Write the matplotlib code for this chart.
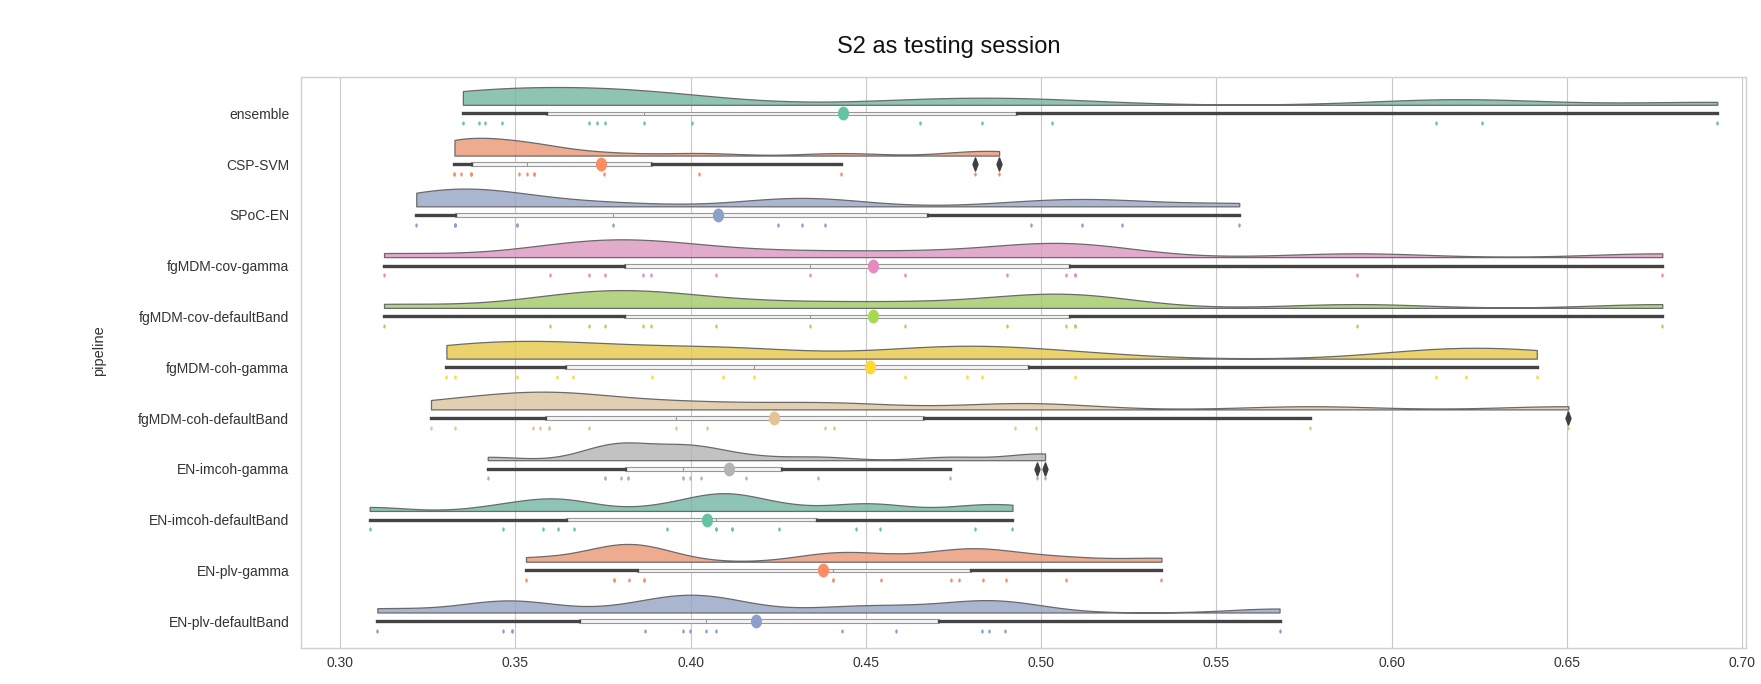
import colorsys
import numpy as np
import matplotlib
matplotlib.use("Agg")
import matplotlib.pyplot as plt
from matplotlib.path import Path

# ---- data (accuracy per subject) ----
pipelines = ["ensemble", "CSP-SVM", "SPoC-EN", "fgMDM-cov-gamma",
             "fgMDM-cov-defaultBand", "fgMDM-coh-gamma", "fgMDM-coh-defaultBand",
             "EN-imcoh-gamma", "EN-imcoh-defaultBand", "EN-plv-gamma",
             "EN-plv-defaultBand"]

ensemble = [0.3350, 0.3396, 0.3414, 0.3463, 0.3711, 0.3733, 0.3755, 0.3867,
            0.4003, 0.4654, 0.4832, 0.5031, 0.6126, 0.6259, 0.6929]
csp_svm = [0.3326, 0.3326, 0.3345, 0.3374, 0.3374, 0.3374, 0.3511, 0.3532,
           0.3553, 0.3553, 0.3753, 0.4024, 0.4430, 0.4812, 0.4880]
spoc_en = [0.3217, 0.3328, 0.3328, 0.3328, 0.3328, 0.3505, 0.3505, 0.3779,
           0.4249, 0.4318, 0.4384, 0.4970, 0.5117, 0.5230, 0.5565]
fgmdm_cov_gamma = [0.3125, 0.3599, 0.3711, 0.3755, 0.3864, 0.3887, 0.4071, 0.4341,
                   0.4611, 0.4903, 0.5070, 0.5097, 0.5097, 0.5901, 0.6772]
fgmdm_cov_default = [0.3125, 0.3599, 0.3711, 0.3755, 0.3864, 0.3887, 0.4071, 0.4341,
                     0.4611, 0.4903, 0.5070, 0.5097, 0.5097, 0.5901, 0.6772]
fgmdm_coh_gamma = [0.3303, 0.3328, 0.3505, 0.3618, 0.3664, 0.3891, 0.4092, 0.4180,
                   0.4611, 0.4789, 0.4832, 0.5097, 0.6126, 0.6212, 0.6414]
fgmdm_coh_default = [0.3259, 0.3328, 0.3550, 0.3571, 0.3595, 0.3596, 0.3711, 0.3957,
                     0.4046, 0.4384, 0.4408, 0.4924, 0.4984, 0.5768, 0.6504]
en_imcoh_gamma = [0.3421, 0.3756, 0.3756, 0.3802, 0.3822, 0.3822, 0.3979, 0.3979,
                  0.3999, 0.4029, 0.4159, 0.4364, 0.4740, 0.4988, 0.5011]
en_imcoh_default = [0.3084, 0.3465, 0.3579, 0.3622, 0.3667, 0.3933, 0.4071, 0.4071,
                    0.4117, 0.4117, 0.4251, 0.4471, 0.4539, 0.4810, 0.4918]
en_plv_gamma = [0.3530, 0.3780, 0.3780, 0.3824, 0.3867, 0.3867, 0.4405, 0.4405,
                0.4543, 0.4744, 0.4766, 0.4835, 0.4900, 0.5072, 0.5343]
en_plv_default = [0.3106, 0.3465, 0.3490, 0.3490, 0.3870, 0.3979, 0.3999, 0.4045,
                  0.4071, 0.4432, 0.4585, 0.4832, 0.4852, 0.4898, 0.5680]

all_scores = [ensemble, csp_svm, spoc_en, fgmdm_cov_gamma, fgmdm_cov_default,
              fgmdm_coh_gamma, fgmdm_coh_default, en_imcoh_gamma, en_imcoh_default,
              en_plv_gamma, en_plv_default]

# Set2
palette = ["#66c2a5", "#fc8d62", "#8da0cb", "#e78ac3",
           "#a6d854", "#ffd92f", "#e5c494", "#b3b3b3"]


def desat(c, prop=0.75):
	r, g, b = matplotlib.colors.to_rgb(c)
	h, l, s = colorsys.rgb_to_hls(r, g, b)
	return colorsys.hls_to_rgb(h, l, s * prop)


def kde_curve(vals, n=300):
	vals = np.asarray(vals)
	bw = 0.2 * vals.std(ddof=1)
	grid = np.linspace(vals.min(), vals.max(), n)
	dens = np.exp(-0.5 * ((grid[:, None] - vals[None, :]) / bw) ** 2).sum(1)
	return grid, dens / dens.max()


def ellipse_marker(ratio):
	circ = Path.unit_circle()
	v = circ.vertices.copy()
	v[:, 0] *= ratio
	return Path(v, circ.codes)


plt.rcParams['font.family'] = ['Liberation Sans', 'DejaVu Sans']

fig = plt.figure(figsize=(17.61, 6.84), dpi=100)
ax = fig.add_axes([0.1709, 0.0526, 0.8206, 0.8348])

n = len(pipelines)
pos = np.arange(n)
violin_base = -0.17
violin_h = 0.35
strip_off = 0.19

dot = ellipse_marker(0.8)
tiny = ellipse_marker(0.6)
diamond = Path([(0, 1), (0.38, 0), (0, -1), (-0.38, 0), (0, 1)],
               [Path.MOVETO, Path.LINETO, Path.LINETO, Path.LINETO, Path.CLOSEPOLY])

for i, vals in enumerate(all_scores):
	col = palette[i % len(palette)]
	# half violin (cloud)
	gx, gd = kde_curve(vals)
	fc = desat(col) + (0.8,)
	ax.fill_between(gx, i + violin_base, i + violin_base - violin_h * gd,
	                facecolor=fc, edgecolor="#6a6a6a", linewidth=0.9, zorder=2)
	# rain
	ax.scatter(vals, [i + strip_off] * len(vals), marker=tiny, s=9, color=col,
	           linewidths=0, zorder=4)
	# mean
	ax.plot(np.mean(vals), i, marker=dot, markersize=10, color=col,
	        markeredgewidth=0, zorder=6)

ax.boxplot(all_scores, positions=pos, orientation='horizontal', widths=0.07,
           patch_artist=True, showcaps=False, manage_ticks=False,
           boxprops=dict(facecolor='#f4f4f4', edgecolor='#999999', linewidth=0.8),
           whiskerprops=dict(color='#444444', linewidth=2.4),
           medianprops=dict(color='#999999', linewidth=0.8),
           flierprops=dict(marker=diamond, markerfacecolor='#3f3f3f',
                           markeredgecolor='#3f3f3f', markersize=9.5),
           zorder=3)

ax.set_xlim(0.2888, 0.7011)
ax.set_ylim(10.53, -0.717)
ax.set_xticks(np.arange(0.30, 0.701, 0.05))
ax.set_xticklabels([f"{t:.2f}" for t in np.arange(0.30, 0.701, 0.05)])
ax.set_yticks(pos)
ax.set_yticklabels(pipelines)
ax.tick_params(axis='y', length=0, pad=8.5, labelsize=10, labelcolor='#333333')
ax.tick_params(axis='x', length=0, pad=6, labelsize=10, labelcolor='#333333')
ax.grid(axis='x', color='#c8c8c8', linewidth=0.8, zorder=0)
ax.set_axisbelow(True)
for s in ax.spines.values():
	s.set_color('#d0d0d0')
	s.set_linewidth(1.0)

fig.text(0.0562, 0.487, "pipeline", rotation=90, ha='center', va='center',
         fontsize=10.5, color='#333333')
fig.text(0.539, 0.931, "S2 as testing session", ha='center', va='center',
         fontsize=17, color='#111111')

fig.savefig("out.png", dpi=100)
